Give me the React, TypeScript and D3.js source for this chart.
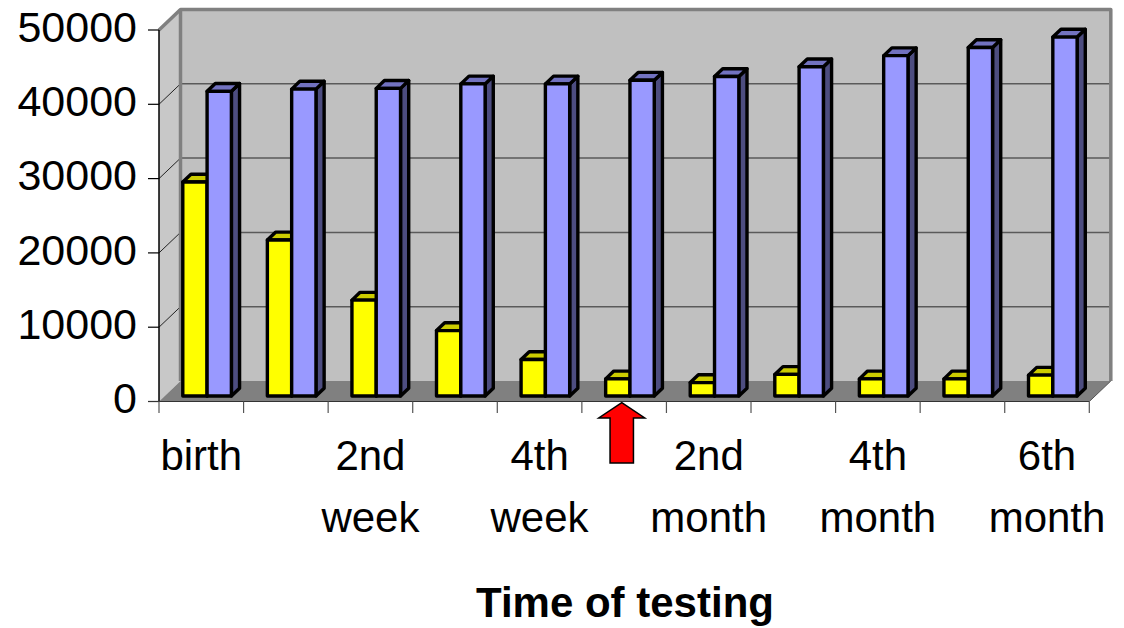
import React from "react";
import * as d3 from "d3";

const categories = [
  "birth",
  "1st week",
  "2nd week",
  "3rd week",
  "4th week",
  "1st month",
  "2nd month",
  "3rd month",
  "4th month",
  "5th month",
  "6th month",
];
const seriesNames = ["yellow", "blue"];
const yellowValues = [28800, 21000, 12900, 8800, 4900, 2300, 1800, 2900, 2300, 2300, 2800];
const blueValues = [41000, 41300, 41400, 42000, 42000, 42500, 43000, 44300, 45800, 46900, 48300];
const yTicks = [0, 10000, 20000, 30000, 40000, 50000];
const xTitle = "Time of testing";
const arrowCategory = "1st month";

const W = 1124;
const H = 628;
const FONT = "'Liberation Sans', Arial, sans-serif";

export default function App() {
  const left = 159;
  const right = 1089.3;
  const y0 = 401.5;
  const yTop = 30;
  const DX = 21.5;
  const DY = -20.5;
  const d0 = 0.27;
  const dB = 0.38;

  const x0 = d3.scaleBand<string>().domain(categories).range([left, right]).padding(0);
  const bw = x0.bandwidth();
  const x1 = d3.scaleBand<string>().domain(seriesNames).range([0, bw]).paddingInner(0).paddingOuter(0.74);
  const y = d3.scaleLinear().domain([0, 50000]).range([y0, yTop]);

  const P = (x: number, yy: number, d: number) => [x + d * DX, yy + d * DY];
  const pts = (arr: number[][]) => arr.map((p) => p.join(",")).join(" ");

  const seriesData = [
    { name: "yellow", values: yellowValues, front: "#FFFF00", top: "#CCCC00", side: "#808000" },
    { name: "blue", values: blueValues, front: "#9999FF", top: "#7272C0", side: "#4D4D80" },
  ];

  const bars: React.ReactNode[] = [];
  categories.forEach((c, i) => {
    seriesData.forEach((s) => {
      const xl = (x0(c) as number) + (x1(s.name) as number);
      const xr = xl + x1.bandwidth();
      const yb = y(0);
      const yt = y(s.values[i]);
      const fa = P(xl, yb, d0), fb = P(xr, yb, d0), fc = P(xr, yt, d0), fd = P(xl, yt, d0);
      const ba = P(xr, yb, d0 + dB), bc = P(xr, yt, d0 + dB), bd = P(xl, yt, d0 + dB);
      bars.push(
        <g key={c + s.name} stroke="#000" strokeWidth={3.4} strokeLinejoin="round">
          <polygon points={pts([fb, ba, bc, fc])} fill={s.side} />
          <polygon points={pts([fd, fc, bc, bd])} fill={s.top} />
          <polygon points={pts([fa, fb, fc, fd])} fill={s.front} />
        </g>
      );
    });
  });

  const backL = left + DX;
  const backR = right + DX;
  const backTop = yTop + DY;
  const backBottom = y0 + DY;

  const boundaries = categories.map((c) => x0(c) as number).concat([right]);

  const ac = (x0(arrowCategory) as number) + bw / 2 - 2.4;
  const tipY = 402.7;
  const arrowPath = [
    [ac, tipY],
    [ac + 23, 418],
    [ac + 11.7, 418],
    [ac + 11.7, 463],
    [ac - 11.7, 463],
    [ac - 11.7, 418],
    [ac - 23, 418],
  ];

  return (
    <svg
      width={W}
      height={H}
      style={{ position: "absolute", left: 0, top: 0, background: "#fff" }}
      fontFamily={FONT}
    >
      {/* back wall */}
      <rect x={backL} y={backTop} width={backR - backL} height={backBottom - backTop} fill="#C0C0C0" />
      {/* side wall */}
      <polygon
        points={pts([[left, yTop], [backL, backTop], [backL, backBottom], [left, y0]])}
        fill="#C8C8C8"
      />
      {/* floor */}
      <polygon
        points={pts([[left, y0], [right, y0], [backR, backBottom], [backL, backBottom]])}
        fill="#808080"
      />
      {/* gridlines */}
      {yTicks.filter((t) => t > 0).map((t) => (
        <g key={t}>
          <line x1={backL} x2={backR} y1={y(t) + DY} y2={y(t) + DY} stroke="#5a5a5a" strokeWidth={1.5} />
          <line x1={left} x2={backL} y1={y(t)} y2={y(t) + DY} stroke="#222" strokeWidth={1} />
        </g>
      ))}
      {/* wall borders */}
      <g stroke="#808080" strokeWidth={3.5} fill="none" strokeLinejoin="round">
        <polyline points={pts([[left, yTop], [backL, backTop], [backR, backTop], [backR, backBottom]])} />
        <line x1={backL} x2={backL} y1={backTop} y2={backBottom} />
      </g>
      <line x1={right} y1={y0} x2={backR} y2={backBottom} stroke="#555" strokeWidth={1} />
      {/* bars */}
      {bars}
      {/* axes */}
      <line x1={left} x2={left} y1={yTop} y2={y0} stroke="#000" strokeWidth={1.5} />
      {yTicks.map((t) => (
        <g key={"yt" + t}>
          <line x1={148} x2={left} y1={y(t)} y2={y(t)} stroke="#000" strokeWidth={1.2} />
          <text x={137} y={y(t) + 11.7} textAnchor="end" fontSize={43} fill="#000">
            {t}
          </text>
        </g>
      ))}
      <line x1={148} x2={right} y1={y0} y2={y0} stroke="#333" strokeWidth={1.2} />
      {boundaries.map((b, i) => (
        <line key={"xt" + i} x1={b} x2={b} y1={y0} y2={413} stroke="#555" strokeWidth={1.2} />
      ))}
      {categories.map((c, i) =>
        i % 2 === 0 ? (
          <text key={"xl" + c} textAnchor="middle" fontSize={42} fill="#000">
            {c.split(" ").map((w, j) => (
              <tspan key={j} x={(x0(c) as number) + bw / 2} y={469.5 + j * 62}>
                {w}
              </tspan>
            ))}
          </text>
        ) : null
      )}
      <text x={625} y={617} textAnchor="middle" fontSize={42} fontWeight="bold" fill="#000">
        {xTitle}
      </text>
      {/* red arrow */}
      <polygon points={pts(arrowPath)} fill="#FF0000" stroke="#000" strokeWidth={1.5} strokeLinejoin="miter" />
    </svg>
  );
}
